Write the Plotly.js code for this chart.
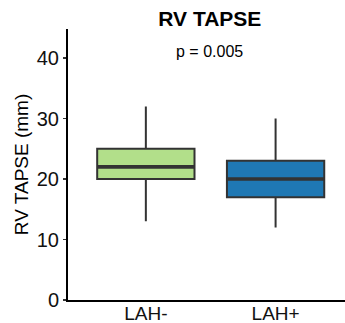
<!DOCTYPE html>
<html>
<head>
<meta charset="utf-8">
<script src="https://cdn.plot.ly/plotly-3.0.1.min.js"></script>
<style>html,body{margin:0;padding:0;background:#fff;}#chart{width:345px;height:323px;}</style>
</head>
<body>
<div id="chart"></div>
<script>
const categories = ["LAH-", "LAH+"];
const lowerWhisker = [13, 12];
const q1 = [20, 17];
const median = [22, 20];
const q3 = [25, 23];
const upperWhisker = [32, 30];
const fillColors = ["#b2df8a", "#1f78b4"];
const pText = "p = 0.005";
const pY = 41;
const yTicks = [0, 10, 20, 30, 40];

const FONT = "Liberation Sans, Arial, sans-serif";
const boxWidth = 0.75;

const traces = categories.map((c, i) => ({
  type: "box",
  x: [c],
  q1: [q1[i]],
  median: [median[i]],
  q3: [q3[i]],
  lowerfence: [lowerWhisker[i]],
  upperfence: [upperWhisker[i]],
  width: boxWidth,
  whiskerwidth: 0,
  fillcolor: fillColors[i],
  line: {color: "#333333", width: 2},
  boxpoints: false,
  hoverinfo: "skip",
  showlegend: false
}));

const medianShapes = categories.map((c, i) => ({
  type: "line", xref: "x", yref: "y",
  x0: i - boxWidth / 2, x1: i + boxWidth / 2,
  y0: median[i], y1: median[i],
  line: {color: "#333333", width: 3.6}
}));

const layout = {
  width: 345, height: 323,
  margin: {l: 68, r: 0, t: 29, b: 23},
  paper_bgcolor: "#ffffff", plot_bgcolor: "#ffffff",
  font: {family: FONT, color: "#000000"},
  title: {
    text: "<b>RV TAPSE</b>",
    font: {family: FONT, size: 21, color: "#000000"},
    xref: "paper", x: 0.512, xanchor: "center",
    yref: "container", y: 1 - 19 / 323, yanchor: "middle"
  },
  boxmode: "overlay",
  xaxis: {
    type: "category",
    range: [-0.6, 1.535],
    showgrid: false, zeroline: false,
    showline: true, linecolor: "#000000", linewidth: 2,
    ticks: "",
    ticklabelstandoff: -5,
    tickfont: {family: FONT, size: 19, color: "#111111"},
    fixedrange: true
  },
  yaxis: {
    range: [0, 44.8],
    tickvals: yTicks,
    ticktext: yTicks.map(String),
    showgrid: false, zeroline: false,
    showline: true, linecolor: "#000000", linewidth: 2,
    ticks: "outside", ticklen: 3, tickwidth: 1.5, tickcolor: "#333333",
    tickfont: {family: FONT, size: 20, color: "#111111"},
    title: {text: "RV TAPSE (mm)", font: {family: FONT, size: 19, color: "#000000"}, standoff: 3},
    fixedrange: true
  },
  shapes: medianShapes,
  annotations: [{
    text: pText, xref: "paper", x: 0.512, yref: "y", y: pY,
    showarrow: false, xanchor: "center", yanchor: "middle",
    font: {family: FONT, size: 16, color: "#000000"}
  }]
};

Plotly.newPlot("chart", traces, layout, {displayModeBar: false, staticPlot: true});
</script>
</body>
</html>
